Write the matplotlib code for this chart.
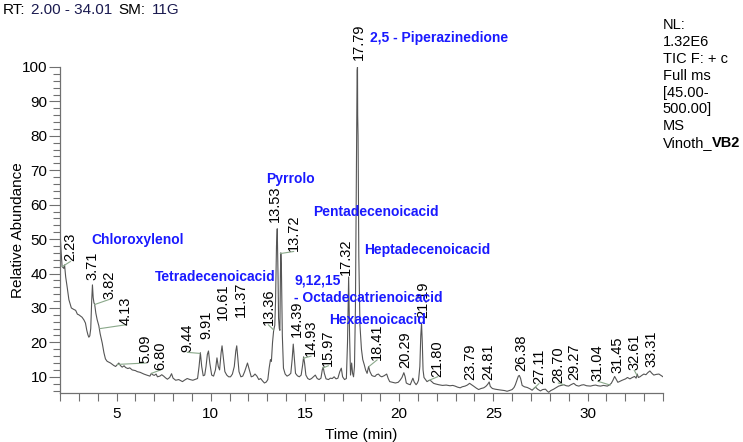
import matplotlib
matplotlib.use("Agg")
from matplotlib import pyplot as plt
from matplotlib.ticker import MultipleLocator

plt.rcParams['font.family'] = ['Liberation Sans', 'DejaVu Sans']

# chromatogram trace (time in min, relative abundance)
time_min = [
    2.00, 2.05, 2.11, 2.20, 2.24, 2.30, 2.38, 2.47, 2.60, 2.72, 2.83, 2.92, 3.00, 3.10, 3.17,
    3.27, 3.35, 3.42, 3.48, 3.53, 3.58, 3.63, 3.68, 3.72, 3.76, 3.80, 3.84, 3.90, 3.97, 4.06,
    4.13, 4.24, 4.33, 4.41, 4.50, 4.68, 4.85, 4.95, 5.05, 5.12, 5.20, 5.30, 5.40, 5.48, 5.60,
    5.70, 5.83, 6.00, 6.10, 6.25, 6.45, 6.60, 6.77, 6.85, 6.92, 7.00, 7.10, 7.17, 7.30, 7.40,
    7.50, 7.60, 7.70, 7.82, 7.92, 8.00, 8.14, 8.30, 8.50, 8.60, 8.75, 8.90, 9.05, 9.20, 9.30,
    9.38, 9.45, 9.52, 9.60, 9.68, 9.75, 9.82, 9.88, 9.95, 10.05, 10.15, 10.25, 10.33, 10.40, 10.47,
    10.55, 10.60, 10.66, 10.75, 10.85, 10.95, 11.05, 11.15, 11.25, 11.33, 11.38, 11.43, 11.50, 11.60, 11.70,
    11.80, 11.95, 12.05, 12.15, 12.25, 12.35, 12.45, 12.55, 12.65, 12.75, 12.85, 12.95, 13.03, 13.10, 13.17,
    13.22, 13.28, 13.34, 13.40, 13.44, 13.49, 13.53, 13.57, 13.60, 13.64, 13.67, 13.70, 13.72, 13.75, 13.80,
    13.86, 13.95, 14.05, 14.15, 14.25, 14.32, 14.38, 14.43, 14.50, 14.60, 14.70, 14.80, 14.88, 14.93, 14.98,
    15.05, 15.15, 15.25, 15.35, 15.45, 15.55, 15.65, 15.75, 15.85, 15.92, 15.97, 16.03, 16.12, 16.25, 16.35,
    16.45, 16.55, 16.65, 16.75, 16.85, 16.93, 17.00, 17.10, 17.20, 17.26, 17.32, 17.37, 17.42, 17.48, 17.53,
    17.58, 17.63, 17.68, 17.73, 17.77, 17.79, 17.80, 17.82, 17.86, 17.92, 18.00, 18.07, 18.15, 18.22, 18.30,
    18.38, 18.45, 18.55, 18.62, 18.72, 18.80, 18.90, 19.00, 19.08, 19.20, 19.34, 19.42, 19.50, 19.65, 19.80,
    19.95, 20.05, 20.15, 20.25, 20.32, 20.38, 20.48, 20.59, 20.67, 20.73, 20.80, 20.90, 20.97, 21.03, 21.10,
    21.15, 21.19, 21.23, 21.27, 21.32, 21.40, 21.48, 21.57, 21.65, 21.75, 21.83, 21.95, 22.10, 22.30, 22.50,
    22.70, 22.85, 22.97, 23.10, 23.24, 23.35, 23.50, 23.62, 23.74, 23.82, 23.95, 24.10, 24.22, 24.35, 24.49,
    24.60, 24.70, 24.78, 24.84, 24.95, 25.10, 25.20, 25.33, 25.46, 25.60, 25.73, 25.85, 26.00, 26.10, 26.17,
    26.25, 26.33, 26.38, 26.45, 26.53, 26.65, 26.80, 26.95, 27.06, 27.15, 27.24, 27.35, 27.50, 27.62, 27.77,
    27.85, 27.94, 28.05, 28.20, 28.35, 28.47, 28.60, 28.74, 28.87, 29.00, 29.12, 29.27, 29.40, 29.54, 29.68,
    29.80, 29.95, 30.16, 30.30, 30.43, 30.55, 30.69, 30.85, 31.05, 31.15, 31.26, 31.35, 31.44, 31.52, 31.61,
    31.72, 31.84, 31.93, 32.02, 32.12, 32.25, 32.38, 32.50, 32.58, 32.64, 32.70, 32.78, 32.88, 32.99, 33.10,
    33.20, 33.31, 33.42, 33.52, 33.65, 33.79, 33.90, 34.01,
]
abundance = [
    52, 47, 42, 41.5, 42.5, 39, 36, 32.4, 30, 29.6, 29.3, 28.2, 28, 27.6, 27.3,
    26.5, 25.6, 23.5, 22.2, 21.5, 21.9, 24, 32, 36.7, 33, 31.5, 31, 28.5, 26.6, 24.8,
    22.5, 19.8, 17, 15.2, 14.5, 14, 13.3, 13, 13.6, 14, 13.3, 12.8, 13.2, 12.7, 12.4,
    12.6, 12, 11.8, 11.5, 11.3, 10.8, 10.5, 10.2, 11, 10.6, 10.4, 10.8, 10, 10.2, 10.6,
    10.2, 9.7, 9.3, 9.8, 10.9, 9.6, 9, 9.2, 8.6, 9, 9.5, 9.2, 9, 9.3, 9.5,
    13, 17, 13, 10.3, 10.5, 13, 16.5, 17.5, 14, 10.5, 10.2, 12, 15.5, 13, 12,
    17, 19, 16, 11.5, 10.5, 10, 10, 10.8, 13, 17.5, 19, 16, 11.5, 10, 10.2,
    11.5, 14, 12, 10, 10.2, 10.8, 10.2, 9.2, 9.5, 8.8, 8.2, 8.5, 9.2, 12.5, 15,
    14.5, 20, 23.5, 25, 32, 48, 53, 40, 27, 24, 23.5, 40, 46, 42, 22,
    12.5, 10.8, 10.2, 10.5, 11, 15, 19.5, 16, 11, 10.3, 10, 10.5, 13.5, 15.8, 14,
    10.5, 9.5, 9.2, 9.5, 10, 10.5, 9.5, 9.2, 9.6, 12, 12.8, 11, 9.4, 9.2, 9.6,
    9.5, 10, 9.4, 9.6, 11.5, 12.5, 10, 9.2, 9.5, 20, 39, 22, 10.5, 14, 11,
    10, 13, 30, 70, 99, 100, 86, 80, 45, 25, 18, 15, 13.5, 12, 11,
    13, 11.5, 10.4, 10.2, 10.1, 10.6, 10.8, 10.2, 10, 10.3, 10.8, 9.5, 8.6, 8.4, 8.2,
    8.4, 9, 9.8, 11.2, 10, 8.2, 7.9, 7.7, 8.8, 9.6, 8.5, 7.7, 8.2, 9, 13,
    22, 25.5, 20, 12, 9.8, 9.2, 8.6, 8.9, 9, 8.5, 8.1, 7.9, 7.7, 7.5, 7.6,
    7.4, 7.5, 7.3, 7.0, 6.8, 7.1, 7.3, 7.6, 8.1, 7.8, 7.3, 6.7, 6.3, 6.6, 6.8,
    7.2, 7.8, 8.5, 7.2, 6.6, 6.4, 6.3, 6.2, 6.1, 6.0, 5.8, 6.0, 6.3, 6.9, 7.7,
    9, 10.2, 10.4, 9.5, 7.5, 7.1, 6.9, 6.5, 6.1, 6.6, 7.0, 6.4, 5.9, 6.3, 6.4,
    5.9, 5.5, 6, 6.4, 6.9, 7.3, 7.5, 7.7, 7.4, 7.3, 7.7, 8.1, 7.5, 7.3, 7.6,
    7.7, 7.4, 7.3, 7.5, 7.6, 7.4, 7.3, 7.5, 7.3, 7.6, 8.1, 9, 10.1, 9.3, 8.4,
    8.7, 9, 9.2, 9.4, 9.8, 9.4, 9.8, 10.1, 9.6, 10.8, 9.8, 10, 10.4, 10.8, 10.6,
    11.2, 11.7, 11, 10.5, 10.7, 10.8, 10.4, 10,
]

# peak retention-time labels
peak_rt = ["2.23", "3.71", "3.82", "4.13", "5.09", "6.80", "9.44", "9.91", "10.61", "11.37",
           "13.36", "13.53", "13.72", "14.39", "14.93", "15.97", "17.32", "17.79", "18.41",
           "20.29", "21.19", "21.80", "23.79", "24.81", "26.38", "27.11", "28.70", "29.27",
           "31.04", "31.45", "32.61", "33.31"]
# where each label sits (x in min, bottom in %)
label_x = [2.55, 3.74, 4.63, 5.48, 6.54, 7.34, 8.76, 9.79, 10.67, 11.59,
           13.06, 13.39, 14.40, 14.55, 15.32, 16.24, 17.16, 17.88, 18.83,
           20.34, 21.30, 22.04, 23.78, 24.75, 26.47, 27.42, 28.45, 29.30,
           30.55, 31.60, 32.48, 33.37]
label_y = [43.5, 38, 32.5, 25.1, 14, 12, 17.1, 21, 26.5, 27.5,
           25.1, 55, 46.4, 21.7, 16, 13.2, 39.6, 102, 14.9,
           12.6, 27, 10, 9.2, 9.2, 11.8, 8, 8.2, 9.2,
           8.7, 11, 11.9, 12.8]
# leader lines: label -> point on the trace
leaders = {
    "2.23": (2.12, 42.0), "3.82": (3.84, 31.0), "4.13": (4.12, 24.0), "5.09": (5.05, 13.6),
    "6.80": (6.85, 11.0), "9.44": (9.42, 16.8), "13.36": (13.34, 23.6), "13.72": (13.70, 45.8),
    "14.93": (14.93, 15.4), "15.97": (15.97, 12.6), "18.41": (18.40, 13.0), "21.80": (21.6, 9.0),
    "27.11": (27.15, 6.6), "28.70": (28.75, 7.7), "31.04": (31.2, 7.6), "32.61": (32.62, 10.5),
}

# compound names (left edge x, centre y)
compounds = ["Chloroxylenol", "Tetradecenoicacid", "Pyrrolo", "Pentadecenoicacid",
             "Heptadecenoicacid", "9,12,15", "- Octadecatrienoicacid", "Hexaenoicacid",
             "2,5 - Piperazinedione"]
compound_x = [3.65, 7.02, 12.93, 15.41, 18.16, 14.43, 14.43, 16.30, 18.43]
compound_y = [49.8, 38.9, 67.5, 57.9, 46.9, 38.0, 32.8, 26.5, 108.3]

info_lines = ["NL:", "1.32E6", "TIC F: + c", "Full ms", "[45.00-", "500.00]", "MS", "Vinoth_"]

fig = plt.figure(figsize=(7.43, 4.42), dpi=100)
ax = fig.add_axes([0.0808, 0.1109, 0.8116, 0.7376])

ax.plot(time_min, abundance, color='#555555', lw=0.8)
ax.set_xlim(2.0, 34.01)
ax.set_ylim(5.3, 100)

for s in ['top', 'right']:
    ax.spines[s].set_visible(False)
for s in ['left', 'bottom']:
    ax.spines[s].set_color('#707070')
    ax.spines[s].set_linewidth(0.9)

ax.xaxis.set_major_locator(MultipleLocator(5))
ax.xaxis.set_minor_locator(MultipleLocator(1))
ax.yaxis.set_major_locator(MultipleLocator(10))
ax.yaxis.set_minor_locator(MultipleLocator(2))
ax.set_yticks(range(10, 101, 10))
ax.tick_params(axis='x', which='both', length=6, width=0.8, color='#707070', pad=4, labelsize=11)
ax.tick_params(axis='y', which='major', length=8, width=0.8, color='#707070', pad=1, labelsize=11)
ax.tick_params(axis='y', which='minor', length=5, width=0.8, color='#707070')

ax.set_xlabel('Time (min)', fontsize=11, labelpad=5)
ax.set_ylabel('Relative Abundance', fontsize=11)
ax.yaxis.set_label_coords(-0.058, 0.5)

for rt, lx, ly in zip(peak_rt, label_x, label_y):
    ax.text(lx, ly, rt, rotation=90, ha='center', va='bottom', fontsize=10.5,
            color='black', clip_on=False)
    if rt in leaders:
        px, py = leaders[rt]
        ax.plot([px, lx], [py, ly], color='#8aa88a', lw=0.8)

for name, cx, cy in zip(compounds, compound_x, compound_y):
    ax.text(cx, cy, name, ha='left', va='center', fontsize=10, fontweight='bold',
            color='#1a1aff', clip_on=False)

fig.text(0.004, 0.978, 'RT:', fontsize=11, va='center', color='black')
fig.text(0.0417, 0.978, '2.00 - 34.01', fontsize=11, va='center', color='#1a1a50')
fig.text(0.159, 0.978, 'SM:', fontsize=11, va='center', color='black')
fig.text(0.2046, 0.978, '11G', fontsize=11, va='center', color='#1a1a50')

for i, line in enumerate(info_lines):
    y = 1 - (25 + 16.9 * i) / 442
    fig.text(0.892, y, line, fontsize=10.5, va='center', color='black')
fig.text(0.892 + 0.0655, 1 - (25 + 16.9 * 7) / 442, 'VB2', fontsize=10.5,
         va='center', fontweight='bold', color='black')

fig.savefig('out.png', dpi=100)
